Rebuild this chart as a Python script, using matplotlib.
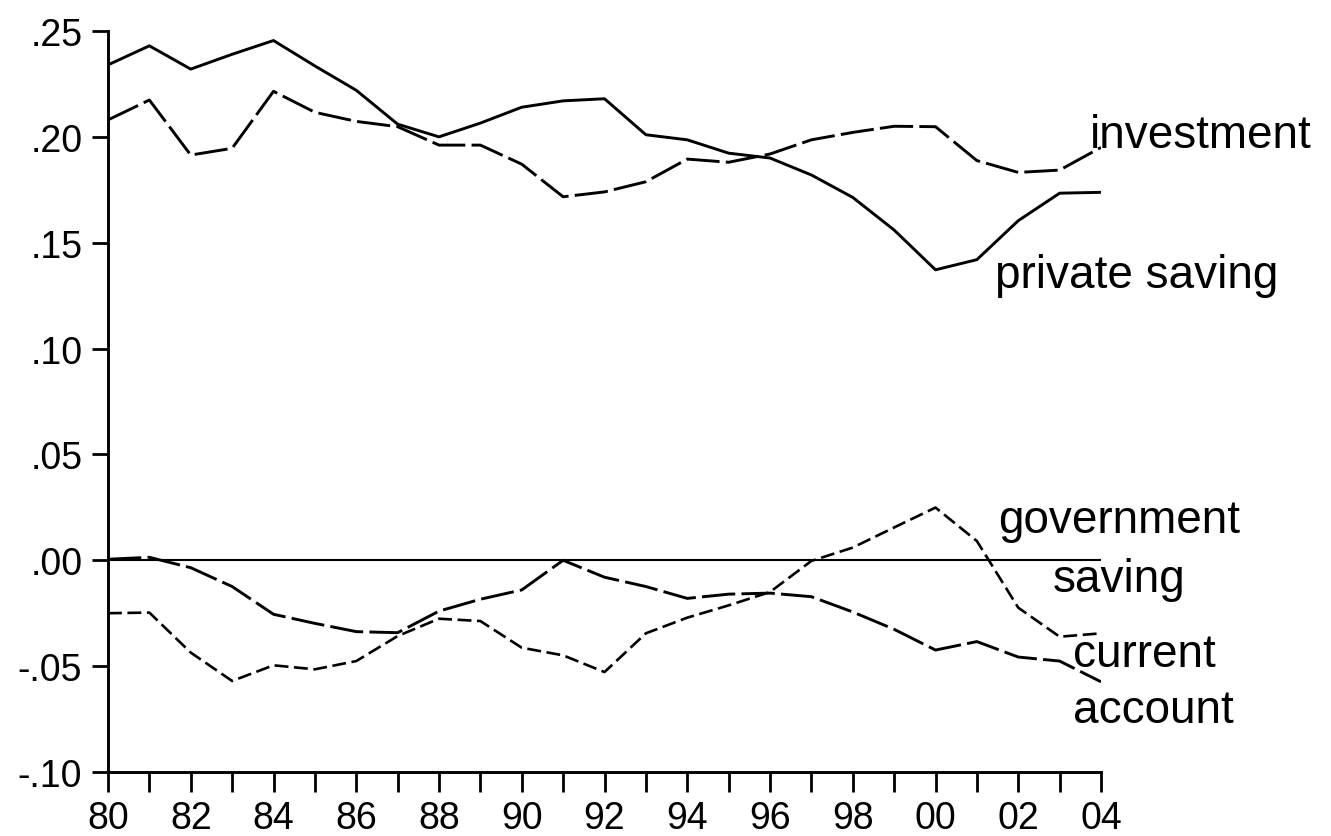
import numpy as np
import matplotlib
matplotlib.use('Agg')
import matplotlib.pyplot as plt

plt.rcParams['font.family'] = ['Liberation Sans', 'DejaVu Sans']
plt.rcParams['lines.scale_dashes'] = False

# data (share of GDP)
years = np.arange(1980, 2005)

private_saving = [0.234, 0.243, 0.232, 0.239, 0.2455, 0.2335, 0.222, 0.206, 0.200, 0.2065,
                  0.214, 0.217, 0.218, 0.201, 0.1986, 0.1923, 0.190, 0.182, 0.1714, 0.156,
                  0.1372, 0.142, 0.1604, 0.1734, 0.1738]
investment = [0.208, 0.2174, 0.1914, 0.1946, 0.2215, 0.2116, 0.2073, 0.2048, 0.1961, 0.1961,
              0.1871, 0.1717, 0.174, 0.1788, 0.1895, 0.188, 0.1919, 0.1986, 0.2021, 0.205,
              0.2048, 0.1888, 0.1832, 0.1843, 0.195]
current_account = [0.0005, 0.0014, -0.0035, -0.0124, -0.0255, -0.0298, -0.0337, -0.0342, -0.024, -0.0184,
                   -0.014, 0.0, -0.008, -0.0124, -0.018, -0.016, -0.0155, -0.0172, -0.0244, -0.0326,
                   -0.0424, -0.0384, -0.0457, -0.0476, -0.0574]
government_saving = [-0.025, -0.0247, -0.0436, -0.057, -0.0496, -0.0515, -0.0476, -0.0358, -0.0276, -0.0287,
                     -0.0413, -0.0449, -0.0528, -0.0345, -0.0271, -0.0213, -0.015, -0.0003, 0.006, 0.0155,
                     0.0249, 0.0091, -0.0224, -0.0361, -0.0345]

ytick_vals = [-0.10, -0.05, 0.0, 0.05, 0.10, 0.15, 0.20, 0.25]
ytick_labels = ['-.10', '-.05', '.00', '.05', '.10', '.15', '.20', '.25']
xtick_vals = np.arange(1980, 2005, 2)
xtick_labels = ['80', '82', '84', '86', '88', '90', '92', '94', '96', '98', '00', '02', '04']

fig = plt.figure(figsize=(13.31, 8.37), dpi=100)
ax = fig.add_axes([108/1331, 1 - 773/837, (1101-108)/1331, (773-32)/837])

ax.axhline(0, color='black', lw=1.5)
ax.plot(years, private_saving, color='black', lw=2.1)
ax.plot(years, investment, color='black', lw=2.1, dashes=(24, 4.5))
ax.plot(years, current_account, color='black', lw=2.1, dashes=(24, 4.5))
ax.plot(years, government_saving, color='black', lw=1.9, dashes=(10, 4))

ax.set_xlim(1980, 2004)
ax.set_ylim(-0.10, 0.25)

ax.spines['top'].set_visible(False)
ax.spines['right'].set_visible(False)
ax.spines['left'].set_linewidth(2.1)
ax.spines['bottom'].set_linewidth(2.1)

ax.set_xticks(years, minor=True)
ax.set_xticks(xtick_vals)
ax.set_xticklabels(xtick_labels)
ax.set_yticks(ytick_vals)
ax.set_yticklabels(ytick_labels)
ax.tick_params(axis='x', which='both', direction='out', length=14.4, width=2.0, labelsize=27, pad=6)
ax.tick_params(axis='y', direction='out', length=11.5, width=2.0, labelsize=27, pad=7)

# series labels
lab = dict(fontsize=33, va='baseline', ha='left', clip_on=False)
ax.text(2003.73, 0.1952, 'investment', **lab)
ax.text(2001.44, 0.129, 'private saving', **lab)
ax.text(2001.51, 0.0132, 'government', **lab)
ax.text(2002.84, -0.0147, 'saving', **lab)
ax.text(2003.32, -0.0501, 'current', **lab)
ax.text(2003.32, -0.0766, 'account', **lab)

fig.savefig('out.png', dpi=100)
